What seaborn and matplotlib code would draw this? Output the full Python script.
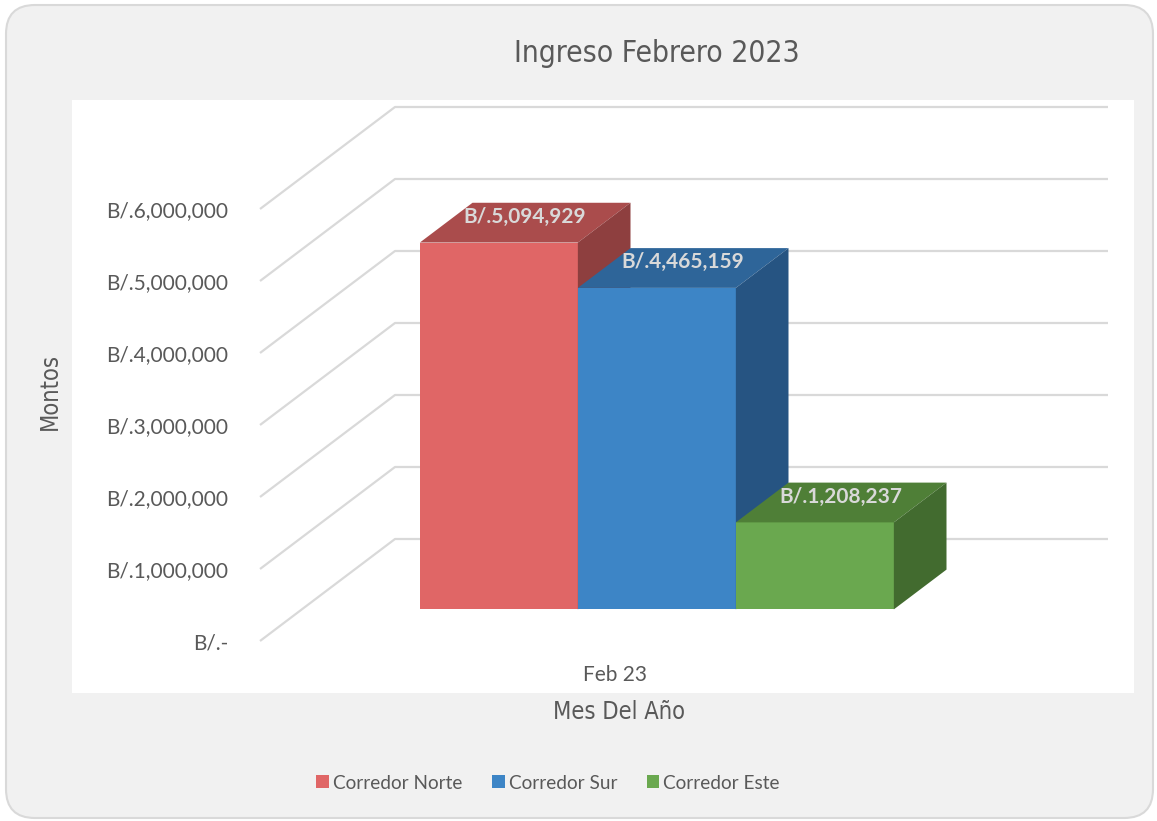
import numpy as np
import pandas as pd
import seaborn as sns
import matplotlib.pyplot as plt
from matplotlib.patches import Polygon, FancyBboxPatch, Rectangle
from matplotlib.ticker import FuncFormatter

# data
meses = ['Feb 23']
corredores = ['Corredor Norte', 'Corredor Sur', 'Corredor Este']
montos = [5094929, 4465159, 1208237]
ticks_y = [0, 1000000, 2000000, 3000000, 4000000, 5000000, 6000000]

colores_frente = ['#E06666', '#3D85C6', '#6AA84F']
colores_tapa = ['#AA4C4C', '#2E6599', '#4F7F37']
colores_lado = ['#8E3F3F', '#265482', '#426B2F']

df = pd.DataFrame({'mes': meses * len(corredores), 'corredor': corredores, 'monto': montos})

sns.set_theme(style='white')
plt.rcParams['font.family'] = ['Lato', 'DejaVu Sans']
narrow = ['DejaVu Sans', 'Liberation Sans']
gris = '#595959'

W, H = 1157, 821
fig = plt.figure(figsize=(W / 100, H / 100), dpi=100)
fig.patch.set_facecolor('white')


def fx(px):
    return px / W


def fy(py):
    return 1 - py / H


# outer rounded frame + white plot area
fig.patches.append(FancyBboxPatch((fx(6), fy(818)), fx(1153) - fx(6), fy(5) - fy(818),
                                  boxstyle='round,pad=0,rounding_size=0.025',
                                  transform=fig.transFigure, facecolor='#F1F1F1',
                                  edgecolor='#D9D9D9', linewidth=1.5, mutation_aspect=W / H,
                                  zorder=-10))
fig.patches.append(Rectangle((fx(72), fy(693)), fx(1134) - fx(72), fy(100) - fy(693),
                             transform=fig.transFigure, facecolor='white', edgecolor='none',
                             zorder=-9))

# front plane of the chart
ax = fig.add_axes([fx(260), fy(641), fx(973) - fx(260), fy(209) - fy(641)])
ax.set_facecolor('none')

sns.barplot(data=df, x='mes', y='monto', hue='corredor', hue_order=corredores,
            palette=colores_frente, width=0.9, saturation=1, linewidth=0, ax=ax, legend=True)

# scales: 158 px per bar (0.3 units), 72 px per million
px_x = 158 / 0.3
px_y = 72 / 1e6
centro = 615
ax.set_xlim((260 - centro) / px_x, (973 - centro) / px_x)
ax.set_ylim(0, 6e6)
DX = 135 / px_x          # full depth of the floor, in data units
DY = 102 / px_y
d0, d1 = 0.31, 0.70       # bar depth band

# gridlines: diagonal on the left wall, horizontal on the back wall
x0, x1 = ax.get_xlim()
for v in ticks_y:
    ax.plot([x0, x0 + DX, x1 + DX], [v, v + DY, v + DY], color='#D9D9D9',
            lw=1.6, zorder=0.5, clip_on=False, solid_capstyle='butt')

# turn seaborn bars into boxes
barras = [p for p in ax.patches if p.get_height() > 0]
barras.sort(key=lambda p: p.get_x())
for i, p in enumerate(barras):
    x, w, v = p.get_x(), p.get_width(), p.get_height()
    p.set_x(x + d0 * DX)
    p.set_y(d0 * DY)
    p.set_zorder(3 + i)
    p.set_clip_on(False)
    xa, xb = x + d0 * DX, x + w + d0 * DX
    top = Polygon([(xa, v + d0 * DY), (xb, v + d0 * DY),
                   (xb + (d1 - d0) * DX, v + d1 * DY), (xa + (d1 - d0) * DX, v + d1 * DY)],
                  closed=True, facecolor=colores_tapa[i], edgecolor='none', zorder=3 + i, clip_on=False)
    side = Polygon([(xb, d0 * DY), (xb + (d1 - d0) * DX, d1 * DY),
                    (xb + (d1 - d0) * DX, v + d1 * DY), (xb, v + d0 * DY)],
                   closed=True, facecolor=colores_lado[i], edgecolor='none', zorder=3 + i, clip_on=False)
    ax.add_patch(top)
    ax.add_patch(side)
    ax.text(xa + w / 2 + (d1 - d0) * DX / 2, v + (d0 + d1) / 2 * DY + 0.08e6,
            f'B/.{montos[i]:,}', ha='center', va='center', color='#D9D9D9',
            fontsize=15, fontweight='bold', zorder=10, clip_on=False)

ax.set_yticks(ticks_y)
ax.yaxis.set_major_formatter(FuncFormatter(lambda v, _: 'B/.-' if v == 0 else f'B/.{v:,.0f}'))
ax.tick_params(axis='y', length=0, pad=23, labelsize=15, labelcolor=gris)
ax.tick_params(axis='x', length=0, pad=17, labelsize=15, labelcolor=gris)
sns.despine(ax=ax, left=True, bottom=True)

ax.set_xlabel('Mes Del Año', fontsize=17, color=gris, family=narrow, fontstretch='condensed')
ax.xaxis.set_label_coords(fx(619), fy(712), transform=fig.transFigure)
ax.set_ylabel('Montos', fontsize=17, color=gris, family=narrow, fontstretch='condensed')
ax.yaxis.set_label_coords(fx(50), fy(391), transform=fig.transFigure)
ax.xaxis.label.set_va('center')
ax.yaxis.label.set_va('center')

fig.text(fx(657), fy(54), 'Ingreso Febrero 2023', ha='center', va='center',
         fontsize=21.5, color=gris, family=narrow, fontstretch='condensed')

sns.move_legend(ax, 'center', bbox_to_anchor=(fx(548), fy(783)), bbox_transform=fig.transFigure,
                ncol=3, frameon=False, title=None, fontsize=13.7, handlelength=0.68,
                handleheight=0.68, handletextpad=0.2, columnspacing=1.55, labelcolor=gris)

fig.savefig('out.png', dpi=100)
